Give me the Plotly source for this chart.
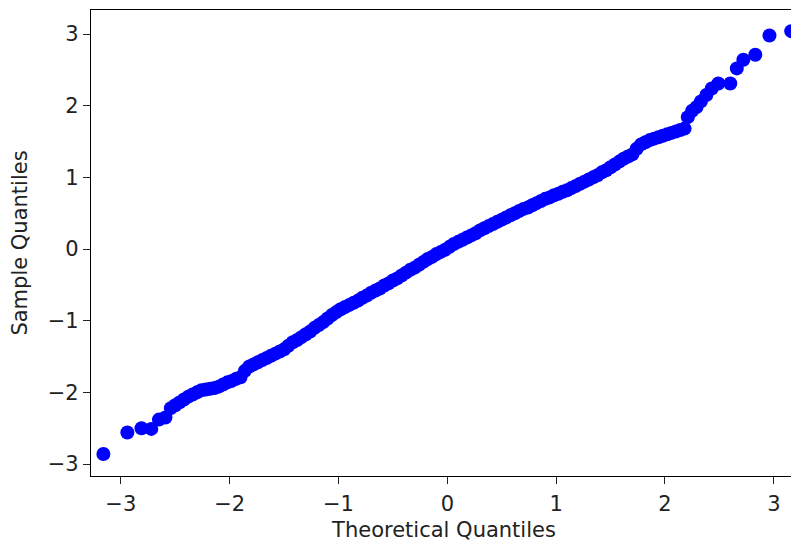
import plotly.graph_objects as go

# Values (theoretical vs sample quantiles)
theoretical = [
    -3.16, -2.94, -2.81, -2.72, -2.65, -2.59, -2.54, -2.50,
    -2.46, -2.42, -2.38, -2.34, -2.30, -2.26, -2.22, -2.18, -2.14, -2.10,
    -2.06, -2.02, -1.98, -1.94, -1.90, -1.86, -1.82, -1.78, -1.74, -1.70,
    -1.66, -1.62, -1.58, -1.54, -1.50, -1.46, -1.42, -1.38, -1.34, -1.30,
    -1.26, -1.22, -1.18, -1.14, -1.10, -1.06, -1.02, -0.98, -0.94, -0.90,
    -0.86, -0.82, -0.78, -0.74, -0.70, -0.66, -0.62, -0.58, -0.54, -0.50,
    -0.46, -0.42, -0.38, -0.34, -0.30, -0.26, -0.22, -0.18, -0.14, -0.10,
    -0.06, -0.02, 0.02, 0.06, 0.10, 0.14, 0.18, 0.22, 0.26, 0.30,
    0.34, 0.38, 0.42, 0.46, 0.50, 0.54, 0.58, 0.62, 0.66, 0.70,
    0.74, 0.78, 0.82, 0.86, 0.90, 0.94, 0.98, 1.02, 1.06, 1.10,
    1.14, 1.18, 1.22, 1.26, 1.30, 1.34, 1.38, 1.42, 1.46, 1.50,
    1.54, 1.58, 1.62, 1.66, 1.70, 1.74, 1.78, 1.82, 1.86, 1.90,
    1.94, 1.98, 2.02, 2.06, 2.10, 2.14, 2.18,
    2.21, 2.25, 2.29, 2.33, 2.38, 2.43, 2.49, 2.60, 2.66, 2.72, 2.83, 2.96, 3.16,
]
sample = [
    -2.86, -2.56, -2.50, -2.51, -2.38, -2.35, -2.22, -2.18,
    -2.14, -2.10, -2.06, -2.03, -2.00, -1.97, -1.96, -1.95, -1.94, -1.92,
    -1.89, -1.86, -1.84, -1.81, -1.79, -1.70, -1.64, -1.61, -1.58, -1.55,
    -1.52, -1.49, -1.46, -1.43, -1.40, -1.35, -1.30, -1.27, -1.23, -1.19,
    -1.15, -1.10, -1.06, -1.02, -0.97, -0.92, -0.88, -0.84, -0.81, -0.78,
    -0.75, -0.72, -0.68, -0.65, -0.61, -0.58, -0.55, -0.51, -0.48, -0.44,
    -0.41, -0.37, -0.33, -0.29, -0.26, -0.22, -0.18, -0.14, -0.11, -0.07,
    -0.04, -0.01, 0.03, 0.07, 0.10, 0.13, 0.16, 0.19, 0.22, 0.26,
    0.29, 0.32, 0.35, 0.38, 0.41, 0.44, 0.47, 0.50, 0.53, 0.56,
    0.58, 0.61, 0.64, 0.67, 0.70, 0.72, 0.75, 0.77, 0.80, 0.82,
    0.85, 0.88, 0.91, 0.94, 0.97, 1.00, 1.03, 1.07, 1.10, 1.14,
    1.18, 1.22, 1.26, 1.29, 1.32, 1.40, 1.46, 1.49, 1.52, 1.54,
    1.56, 1.58, 1.60, 1.62, 1.64, 1.66, 1.68,
    1.84, 1.93, 1.98, 2.06, 2.15, 2.24, 2.31, 2.31, 2.52, 2.64, 2.71, 2.98, 3.04,
]
x_ticks = [-3, -2, -1, 0, 1, 2, 3]
y_ticks = [-3, -2, -1, 0, 1, 2, 3]
x_title = "Theoretical Quantiles"
y_title = "Sample Quantiles"

FONT = "DejaVu Sans"
TXT = "#222222"

fig = go.Figure()
fig.add_trace(go.Scatter(
    x=theoretical, y=sample, mode="markers",
    marker=dict(color="#0000ff", size=14, line=dict(width=0)),
    showlegend=False, hoverinfo="skip",
))

axis_common = dict(
    showgrid=False, zeroline=False, showline=True, mirror=True,
    linecolor="#000000", linewidth=1.2,
    ticks="outside", ticklen=7, tickwidth=1.2, tickcolor="#222222",
    tickfont=dict(family=FONT, size=21, color=TXT),
    automargin=False,
)
fig.update_xaxes(range=[-3.274, 3.213], tickvals=x_ticks, ticklabelstandoff=2,
                 title=dict(text=x_title, font=dict(family=FONT, size=21, color=TXT), standoff=7),
                 **axis_common)
fig.update_yaxes(range=[-3.167, 3.335], tickvals=y_ticks,
                 title=dict(text=y_title, font=dict(family=FONT, size=21, color=TXT), standoff=14),
                 **axis_common)
# page body has an 8px default margin, so the figure is sized/offset to compensate
fig.update_layout(
    width=791, height=540,
    margin=dict(l=83, r=2, t=2, b=72, pad=0),
    paper_bgcolor="white", plot_bgcolor="white",
    font=dict(family=FONT),
)
fig.write_html("out.html")
